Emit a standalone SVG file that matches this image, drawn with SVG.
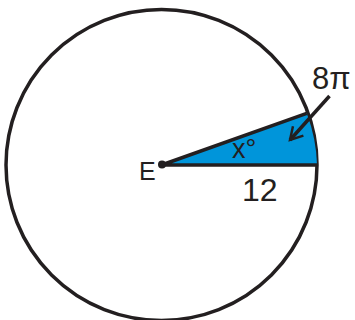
<svg xmlns="http://www.w3.org/2000/svg" width="355" height="320" viewBox="0 0 355 320">
<style>
.ln{stroke:#231f20;stroke-width:3.5;fill:none}
.t{font-family:"Liberation Sans",Arial,sans-serif;fill:#231f20}
</style>
<defs>
<marker id="ah" viewBox="0 0 10 10" refX="8.5" refY="5" markerWidth="5" markerHeight="5" orient="auto" markerUnits="strokeWidth">
<path d="M1.5,1 L8.5,5 L1.5,9" fill="none" stroke="#231f20" stroke-width="1.4"/>
</marker>
</defs>
<g id="circle">
<circle class="ln" cx="161.5" cy="165" r="155.5"/>
</g>
<g id="sector">
<path d="M161.5,165 L306.7,113.3 A155.5,155.5 0 0 1 317,165 Z" fill="#0095da"/>
<path class="ln" d="M161.5,165 L306.7,113.3 M161.5,165 L317,165"/>
<circle cx="162" cy="164.5" r="4" fill="#231f20"/>
</g>
<g id="connectors">
<line class="ln" x1="329.5" y1="96" x2="290" y2="140" stroke-width="3" marker-end="url(#ah)"/>
</g>
<g id="labels">
<text class="t" x="312" y="89" font-size="31">8π</text>
<text class="t" x="232" y="158" font-size="27">x°</text>
<text class="t" x="139" y="180" font-size="25">E</text>
<text class="t" x="242" y="201" font-size="32">12</text>
</g>
</svg>
